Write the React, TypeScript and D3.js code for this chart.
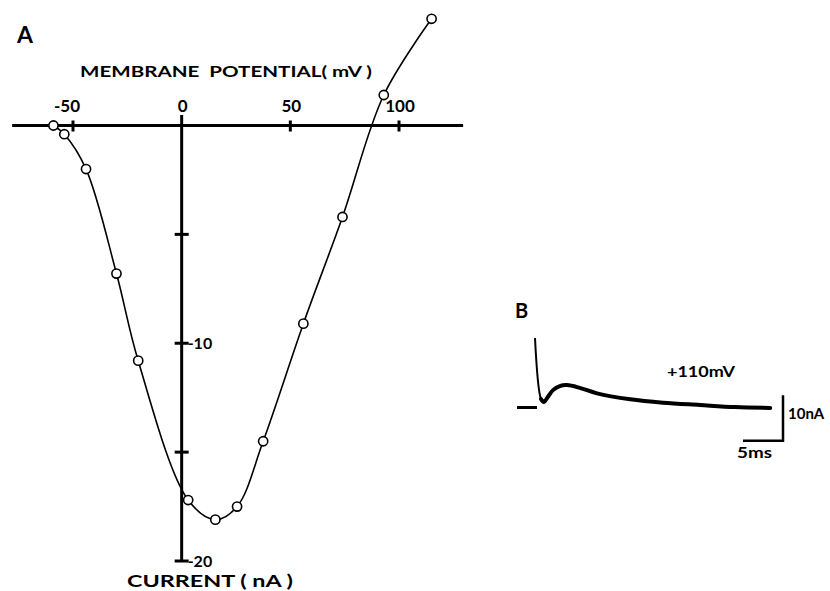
import React from 'react';
import { scaleLinear, line, curveCatmullRom } from 'd3';

const d3 = { scaleLinear, line, curveCatmullRom };

// panel A: I-V relation
const voltages = [-59, -54, -44, -30, -20, 3, 15.5, 25.5, 37.5, 56, 74, 93, 115];
const currents = [0, -0.4, -2.0, -6.8, -10.8, -17.2, -18.1, -17.5, -14.5, -9.1, -4.2, 1.4, 4.9];

const xTicks = [-50, 50, 100];
const xTickLabels = ['-50', '0', '50', '100'];
const xLabelValues = [-50, 0, 50, 100];
const yTicks = [-5, -10, -15, -20];
const yTickLabels = [{ v: -10, t: '-10' }, { v: -20, t: '-20' }];

// panel B: current trace at +110 mV (ms, nA above holding level)
const traceT = [0, 0.75, 1.1, 1.6, 2.25, 3.1, 4.0, 5.6, 7.75, 11.9, 16, 20.6, 25, 29.4];
const traceI = [15.2, 1.86, 1.2, 2.3, 3.8, 4.7, 4.9, 4.3, 3.1, 1.8, 1.05, 0.55, 0.1, -0.1];
const holdingT = [-2.25, 0.25];

const FONT = 'Lato, "DejaVu Sans", sans-serif';

const App = () => {
    const x = d3.scaleLinear().domain([-50, 100]).range([73, 399]);
    const y = d3.scaleLinear().domain([0, -20]).range([125.5, 561]);

    const t = d3.scaleLinear().domain([0, 5]).range([535, 575]);
    const i = d3.scaleLinear().domain([0, 10]).range([407.5, 361.8]);

    const pts = voltages.map((v, k) => [v, currents[k]] as [number, number]);
    const ivPath = d3.line<[number, number]>()
        .x(d => x(d[0]))
        .y(d => y(d[1]))
        .curve(d3.curveCatmullRom.alpha(0.5))(pts);

    const tr = traceT.map((v, k) => [v, traceI[k]] as [number, number]);
    const trLine = d3.line<[number, number]>()
        .x(d => t(d[0]))
        .y(d => i(d[1]))
        .curve(d3.curveCatmullRom.alpha(0.5));
    const spikePath = trLine(tr.slice(0, 3));
    const tailPath = trLine(tr.slice(1));

    // scale bar corner
    const sbT = 31;
    const sbI = -7.3;

    return (
        <svg width={830} height={591}
            style={{ position: 'absolute', left: 0, top: 0, background: '#fff' }}
            fontFamily={FONT} fontWeight={700}>

            {/* A */}
            <text x={17} y={43} fontSize={23}>A</text>
            <text x={80} y={77} fontSize={16} textLength={292} lengthAdjust="spacingAndGlyphs"
                style={{ whiteSpace: 'pre' }}>{'MEMBRANE  POTENTIAL( mV )'}</text>

            <line x1={x(-78)} x2={x(129.5)} y1={y(0)} y2={y(0)} stroke="#000" strokeWidth={3} />
            <line x1={x(0)} x2={x(0)} y1={y(0.48)} y2={y(-20)} stroke="#000" strokeWidth={3} />

            {xTicks.map(v => (
                <line key={v} x1={x(v)} x2={x(v)} y1={y(0) - 5} y2={y(0) + 6} stroke="#000" strokeWidth={3} />
            ))}
            {xLabelValues.map((v, k) => (
                <text key={v} x={x(v) + (v < 0 ? -6 : 1)} y={112} fontSize={17} textAnchor="middle">
                    {xTickLabels[k]}
                </text>
            ))}

            {yTicks.map(v => (
                <line key={v} x1={x(0) - 7} x2={x(0) + 7} y1={y(v)} y2={y(v)} stroke="#000" strokeWidth={3} />
            ))}
            {yTickLabels.map(d => (
                <text key={d.v} x={x(0) + 6} y={y(d.v) + 6} fontSize={16}>{d.t}</text>
            ))}
            <text x={127} y={587} fontSize={17} textLength={166} lengthAdjust="spacingAndGlyphs"
                style={{ whiteSpace: 'pre' }}>{'CURRENT ( nA )'}</text>

            <path d={ivPath || ''} fill="none" stroke="#000" strokeWidth={1.6} />
            {pts.map((d, k) => (
                <circle key={k} cx={x(d[0])} cy={y(d[1])} r={4.6} fill="#fff" stroke="#000" strokeWidth={1.6} />
            ))}

            {/* B */}
            <text x={515} y={318} fontSize={20}>B</text>
            <line x1={t(holdingT[0])} x2={t(holdingT[1])} y1={i(0)} y2={i(0)} stroke="#000" strokeWidth={3} />
            <path d={spikePath || ''} fill="none" stroke="#000" strokeWidth={2} />
            <path d={tailPath || ''} fill="none" stroke="#000" strokeWidth={4} strokeLinecap="round" strokeLinejoin="round" />
            <text x={667} y={377} fontSize={15} textLength={68} lengthAdjust="spacingAndGlyphs">+110mV</text>

            <path d={`M${t(sbT - 5)},${i(sbI)}H${t(sbT)}V${i(sbI + 10)}`} fill="none" stroke="#000" strokeWidth={2.5} />
            <text x={788} y={419} fontSize={15}>10nA</text>
            <text x={737} y={458} fontSize={15} textLength={35} lengthAdjust="spacingAndGlyphs">5ms</text>
        </svg>
    );
};

export default App;
